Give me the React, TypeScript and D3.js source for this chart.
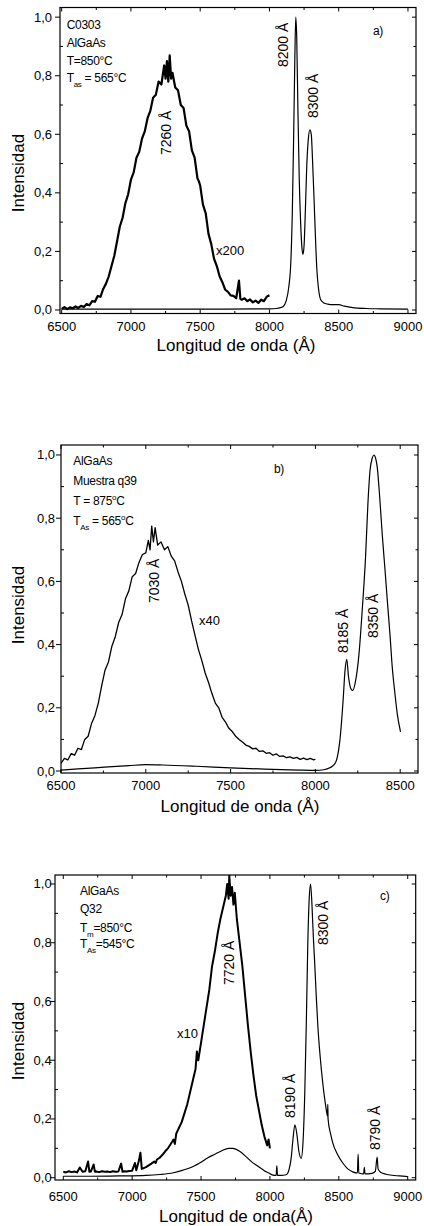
import React from 'react';
import * as d3 from 'd3';

type Pt = [number, number];

// ---- panel a) C0303, x200 curve and main spectrum
const aScaled: Pt[] = [
  [6500, 0.004], [6520, 0.010], [6540, 0.003], [6560, 0.009], [6580, 0.006], [6600, 0.012],
  [6620, 0.007], [6640, 0.014], [6660, 0.010], [6680, 0.020], [6700, 0.016], [6720, 0.030],
  [6740, 0.028], [6760, 0.048], [6780, 0.045], [6800, 0.072], [6820, 0.090], [6840, 0.115],
  [6860, 0.150], [6880, 0.185], [6900, 0.235], [6920, 0.285], [6940, 0.315], [6960, 0.365],
  [6980, 0.395], [7000, 0.445], [7020, 0.470], [7040, 0.520], [7060, 0.540], [7080, 0.585],
  [7100, 0.610], [7120, 0.655], [7140, 0.680], [7160, 0.725], [7180, 0.735], [7200, 0.780],
  [7220, 0.770], [7240, 0.835], [7250, 0.790], [7260, 0.850], [7270, 0.780], [7280, 0.870],
  [7290, 0.790], [7300, 0.810], [7320, 0.760], [7340, 0.750], [7360, 0.700], [7380, 0.690],
  [7400, 0.630], [7420, 0.610], [7440, 0.545], [7460, 0.520], [7480, 0.450], [7490, 0.440],
  [7500, 0.425], [7520, 0.360], [7540, 0.330], [7560, 0.260], [7580, 0.225], [7600, 0.175],
  [7620, 0.150], [7640, 0.115], [7660, 0.095], [7680, 0.070], [7700, 0.062], [7720, 0.050],
  [7740, 0.048], [7760, 0.040], [7780, 0.100], [7790, 0.038], [7800, 0.035], [7820, 0.040],
  [7840, 0.030], [7860, 0.036], [7880, 0.026], [7900, 0.032], [7920, 0.024], [7940, 0.035],
  [7960, 0.030], [7980, 0.045], [8000, 0.050],
];
const aMain: Pt[] = [
  [6500, 0.003], [7000, 0.003], [7500, 0.003], [8000, 0.004], [8050, 0.005], [8080, 0.008],
  [8100, 0.012], [8120, 0.030], [8140, 0.080], [8155, 0.170], [8165, 0.330], [8175, 0.600],
  [8183, 0.850], [8190, 1.000], [8197, 0.930], [8205, 0.700], [8215, 0.450], [8225, 0.300],
  [8235, 0.210], [8242, 0.190], [8250, 0.220], [8260, 0.350], [8270, 0.500], [8280, 0.580],
  [8292, 0.615], [8302, 0.600], [8312, 0.500], [8322, 0.380], [8332, 0.250], [8342, 0.140],
  [8355, 0.070], [8370, 0.035], [8390, 0.025], [8420, 0.020], [8460, 0.018], [8500, 0.018],
  [8540, 0.013], [8600, 0.008], [8700, 0.005], [8800, 0.004], [9000, 0.003],
];

// ---- panel b) q39, x40 curve and main spectrum
const bScaled: Pt[] = [
  [6500, 0.024], [6520, 0.040], [6540, 0.035], [6560, 0.055], [6580, 0.050], [6600, 0.072],
  [6620, 0.068], [6640, 0.100], [6660, 0.110], [6680, 0.150], [6700, 0.175], [6720, 0.215],
  [6740, 0.270], [6760, 0.320], [6780, 0.345], [6800, 0.395], [6820, 0.425], [6840, 0.470],
  [6860, 0.495], [6880, 0.545], [6900, 0.570], [6920, 0.615], [6940, 0.625], [6960, 0.660],
  [6980, 0.685], [7000, 0.690], [7015, 0.730], [7025, 0.700], [7035, 0.775], [7045, 0.725],
  [7055, 0.770], [7070, 0.715], [7090, 0.725], [7110, 0.700], [7130, 0.710], [7150, 0.680],
  [7170, 0.665], [7190, 0.630], [7210, 0.600], [7230, 0.560], [7250, 0.525], [7270, 0.475],
  [7290, 0.430], [7310, 0.385], [7330, 0.350], [7350, 0.310], [7370, 0.280], [7390, 0.245],
  [7410, 0.215], [7430, 0.200], [7450, 0.170], [7470, 0.155], [7490, 0.135], [7510, 0.125],
  [7530, 0.110], [7550, 0.100], [7570, 0.092], [7590, 0.082], [7610, 0.078], [7630, 0.070],
  [7650, 0.072], [7670, 0.062], [7690, 0.064], [7710, 0.056], [7730, 0.058], [7750, 0.050],
  [7770, 0.054], [7790, 0.046], [7810, 0.048], [7830, 0.042], [7850, 0.045], [7870, 0.040],
  [7890, 0.043], [7910, 0.037], [7930, 0.041], [7950, 0.036], [7970, 0.040], [7990, 0.035],
  [8000, 0.038],
];
const bMain: Pt[] = [
  [6500, 0.003], [6700, 0.010], [6900, 0.017], [7000, 0.020], [7100, 0.019], [7300, 0.015],
  [7500, 0.010], [7700, 0.006], [7900, 0.003], [8000, 0.002], [8050, 0.004], [8085, 0.010],
  [8110, 0.020], [8125, 0.035], [8145, 0.100], [8163, 0.220], [8175, 0.320], [8185, 0.353],
  [8195, 0.300], [8208, 0.262], [8220, 0.255], [8235, 0.280], [8257, 0.370], [8275, 0.500],
  [8296, 0.680], [8310, 0.850], [8322, 0.950], [8335, 0.990], [8345, 1.000], [8355, 0.990],
  [8365, 0.960], [8380, 0.860], [8394, 0.750], [8410, 0.640], [8424, 0.540], [8440, 0.430],
  [8453, 0.330], [8468, 0.250], [8483, 0.180], [8502, 0.124],
];

// ---- panel c) Q32, x10 curve and main spectrum
const cScaled: Pt[] = [
  [6500, 0.020], [6520, 0.018], [6540, 0.022], [6560, 0.019], [6580, 0.021], [6600, 0.018],
  [6620, 0.035], [6640, 0.020], [6660, 0.022], [6680, 0.055], [6690, 0.020], [6700, 0.021],
  [6720, 0.045], [6730, 0.020], [6740, 0.021], [6760, 0.019], [6780, 0.022], [6800, 0.020],
  [6820, 0.021], [6840, 0.019], [6860, 0.022], [6880, 0.020], [6900, 0.021], [6920, 0.048],
  [6930, 0.020], [6940, 0.022], [6960, 0.021], [6980, 0.023], [7000, 0.024], [7020, 0.050],
  [7030, 0.025], [7050, 0.060], [7060, 0.085], [7070, 0.030], [7080, 0.032], [7100, 0.036],
  [7120, 0.042], [7140, 0.048], [7160, 0.055], [7170, 0.050], [7180, 0.062], [7200, 0.068],
  [7220, 0.078], [7240, 0.090], [7260, 0.100], [7280, 0.115], [7300, 0.130], [7310, 0.115],
  [7320, 0.150], [7340, 0.170], [7360, 0.190], [7380, 0.220], [7400, 0.250], [7420, 0.290],
  [7440, 0.330], [7460, 0.370], [7470, 0.430], [7480, 0.400], [7500, 0.460], [7520, 0.520],
  [7540, 0.580], [7560, 0.640], [7580, 0.720], [7600, 0.770], [7620, 0.830], [7640, 0.880],
  [7660, 0.920], [7680, 0.960], [7690, 1.000], [7700, 0.950], [7705, 1.030], [7715, 0.960],
  [7725, 0.990], [7735, 0.930], [7745, 0.970], [7760, 0.880], [7780, 0.800], [7800, 0.720],
  [7820, 0.620], [7840, 0.520], [7860, 0.430], [7880, 0.350], [7900, 0.280], [7920, 0.230],
  [7940, 0.180], [7960, 0.140], [7980, 0.110], [7990, 0.130], [8000, 0.100],
];
const cMain: Pt[] = [
  [6500, 0.005], [6700, 0.005], [6900, 0.006], [7100, 0.008], [7200, 0.011], [7300, 0.017],
  [7370, 0.026], [7450, 0.040], [7490, 0.050], [7550, 0.068], [7600, 0.080], [7650, 0.092],
  [7700, 0.100], [7732, 0.100], [7780, 0.090], [7830, 0.070], [7870, 0.053], [7900, 0.043],
  [7950, 0.027], [7973, 0.020], [8000, 0.014], [8022, 0.009], [8045, 0.008], [8050, 0.040],
  [8055, 0.008], [8080, 0.008], [8118, 0.010], [8140, 0.030], [8155, 0.070], [8167, 0.130],
  [8181, 0.180], [8195, 0.150], [8210, 0.090], [8227, 0.066], [8240, 0.120], [8253, 0.290],
  [8265, 0.550], [8275, 0.800], [8285, 0.950], [8295, 1.000], [8305, 0.930], [8315, 0.820],
  [8324, 0.740], [8336, 0.620], [8348, 0.515], [8365, 0.410], [8384, 0.320], [8400, 0.260],
  [8415, 0.215], [8418, 0.210], [8420, 0.250], [8422, 0.200], [8440, 0.150], [8457, 0.117],
  [8490, 0.080], [8529, 0.050], [8565, 0.030], [8601, 0.020], [8635, 0.016], [8640, 0.080],
  [8645, 0.016], [8680, 0.013], [8685, 0.035], [8690, 0.013], [8740, 0.015], [8765, 0.022],
  [8778, 0.070], [8785, 0.030], [8800, 0.020], [8819, 0.015], [8860, 0.010], [8940, 0.006],
  [9000, 0.004],
];

const yTicks = [0, 0.2, 0.4, 0.6, 0.8, 1.0];
const yMinor = [0.1, 0.3, 0.5, 0.7, 0.9];
const xTicksWide = [6500, 7000, 7500, 8000, 8500, 9000];
const xTicksNarrow = [6500, 7000, 7500, 8000, 8500];

const FONT = "'Liberation Sans', Arial, Helvetica, sans-serif";
const fmt = (v: number) => d3.format('.1f')(v).replace('.', ',');

function Rot({ x, y, text }: { x: number; y: number; text: string }) {
  return (
    <text transform={`translate(${x},${y}) rotate(-90)`} fontSize={14}>{text}</text>
  );
}

function Panel(props: any) {
  const { id, box, xDom, yDom, xTicks, scaled, main, scaledWidth, yLabelEnd,
    tickBase, titleBase, titleX, titleText, yTitleY, children } = props;
  const x = d3.scaleLinear().domain(xDom).range([box.l, box.r]);
  const y = d3.scaleLinear().domain(yDom).range([box.b, box.t]);
  const line = d3.line<Pt>().x(d => x(d[0])).y(d => y(d[1]));
  const smooth = d3.line<Pt>().x(d => x(d[0])).y(d => y(d[1])).curve(d3.curveMonotoneX);
  const xMinor = d3.range(xTicks[0] + 250, xDom[1], 500);

  return (
    <g fontFamily={FONT}>
      <defs>
        <clipPath id={'clip-' + id}>
          <rect x={box.l} y={box.t} width={box.r - box.l} height={box.b - box.t} />
        </clipPath>
      </defs>
      <g clipPath={`url(#clip-${id})`} fill="none" stroke="#000" strokeLinejoin="round">
        <path d={line(scaled) || ''} strokeWidth={scaledWidth} />
        <path d={smooth(main) || ''} strokeWidth={1.2} />
      </g>
      <rect x={box.l} y={box.t} width={box.r - box.l} height={box.b - box.t}
        fill="none" stroke="#000" strokeWidth={1.2} />
      <g stroke="#000" strokeWidth={1}>
        {xTicks.map((t: number) => (
          <g key={'xt' + t}>
            <line x1={x(t)} x2={x(t)} y1={box.b} y2={box.b - 4} />
            <line x1={x(t)} x2={x(t)} y1={box.t} y2={box.t + 4} />
          </g>
        ))}
        {xMinor.map((t: number) => (
          <g key={'xm' + t}>
            <line x1={x(t)} x2={x(t)} y1={box.b} y2={box.b - 2.5} />
            <line x1={x(t)} x2={x(t)} y1={box.t} y2={box.t + 2.5} />
          </g>
        ))}
        {yTicks.map(t => (
          <g key={'yt' + t}>
            <line x1={box.l - 5} x2={box.l} y1={y(t)} y2={y(t)} />
            <line x1={box.r} x2={box.r - 4} y1={y(t)} y2={y(t)} />
          </g>
        ))}
        {yMinor.map(t => (
          <g key={'ym' + t}>
            <line x1={box.l} x2={box.l + 3} y1={y(t)} y2={y(t)} />
            <line x1={box.r} x2={box.r - 2.5} y1={y(t)} y2={y(t)} />
          </g>
        ))}
      </g>
      <g fontSize={13} fill="#000">
        {xTicks.map((t: number) => (
          <text key={'xl' + t} x={x(t)} y={tickBase} textAnchor="middle">{t}</text>
        ))}
        {yTicks.map(t => (
          <text key={'yl' + t} x={yLabelEnd} y={y(t) + 4.5} textAnchor="end">{fmt(t)}</text>
        ))}
      </g>
      <text x={titleX} y={titleBase} textAnchor="middle" fontSize={17}>{titleText}</text>
      <text transform={`translate(24,${yTitleY}) rotate(-90)`} textAnchor="middle" fontSize={17}>
        Intensidad
      </text>
      {children}
    </g>
  );
}

export default function App() {
  return (
    <svg width={424} height={1226} style={{ position: 'absolute', left: 0, top: 0, background: '#fff' }}>
      <Panel id="a" box={{ l: 60, r: 416, t: 7.5, b: 313.5 }} xDom={[6488, 9058]} yDom={[-0.012, 1.033]}
        xTicks={xTicksWide} scaled={aScaled} main={aMain} scaledWidth={2.2} yLabelEnd={52}
        tickBase={331} titleBase={351} titleX={236} titleText="Longitud de onda (Å)" yTitleY={173}>
        <g fontSize={12} letterSpacing={-0.3}>
          <text x={66.7} y={29.3}>C0303</text>
          <text x={66.7} y={46.7}>AlGaAs</text>
          <text x={66.7} y={65}>T=850°C</text>
          <text x={66.7} y={81.7}>T<tspan fontSize={8} dy={5}>as</tspan><tspan dy={-5}> = 565°C</tspan></text>
          <text x={373} y={35}>a)</text>
        </g>
        <Rot x={287.7} y={67} text="8200 Å" />
        <Rot x={318.3} y={118} text="8300 Å" />
        <Rot x={170.7} y={155} text="7260 Å" />
        <text x={216} y={255} fontSize={13}>x200</text>
      </Panel>

      <Panel id="b" box={{ l: 61, r: 418, t: 445, b: 773 }} xDom={[6500, 8605]} yDom={[-0.0063, 1.0316]}
        xTicks={xTicksNarrow} scaled={bScaled} main={bMain} scaledWidth={1.3} yLabelEnd={55}
        tickBase={790} titleBase={812} titleX={240} titleText="Longitud de onda (Å)" yTitleY={605}>
        <g fontSize={12} letterSpacing={-0.3}>
          <text x={73.3} y={465}>AlGaAs</text>
          <text x={73.3} y={485}>Muestra q39</text>
          <text x={73.3} y={505}>T = 875<tspan fontSize={8} dy={-5}>o</tspan><tspan dy={5}>C</tspan></text>
          <text x={73.3} y={525}>T<tspan fontSize={8} dy={5}>As</tspan><tspan dy={-5}> = 565</tspan><tspan fontSize={8} dy={-5}>o</tspan><tspan dy={5}>C</tspan></text>
          <text x={274} y={473}>b)</text>
        </g>
        <Rot x={159} y={603} text="7030 Å" />
        <Rot x={348} y={653} text="8185 Å" />
        <Rot x={378} y={638} text="8350 Å" />
        <text x={199} y={625} fontSize={13}>x40</text>
      </Panel>

      <Panel id="c" box={{ l: 55, r: 415.7, t: 875, b: 1180 }} xDom={[6440, 9058]} yDom={[-0.0078, 1.0306]}
        xTicks={xTicksWide} scaled={cScaled} main={cMain} scaledWidth={2.0} yLabelEnd={51.7}
        tickBase={1201} titleBase={1222} titleX={236} titleText="Longitud de onda(Å)" yTitleY={1041}>
        <g fontSize={12} letterSpacing={-0.3}>
          <text x={80} y={895}>AlGaAs</text>
          <text x={80} y={913}>Q32</text>
          <text x={80} y={931.7}>T<tspan fontSize={8} dy={5}>m</tspan><tspan dy={-5}>=850°C</tspan></text>
          <text x={80} y={948.3}>T<tspan fontSize={8} dy={5}>As</tspan><tspan dy={-5}>=545°C</tspan></text>
          <text x={380} y={900}>c)</text>
        </g>
        <Rot x={234} y={985} text="7720 Å" />
        <Rot x={328} y={945} text="8300 Å" />
        <Rot x={295} y={1118} text="8190 Å" />
        <Rot x={380} y={1150} text="8790 Å" />
        <text x={177} y={1038} fontSize={13}>x10</text>
      </Panel>
    </svg>
  );
}
